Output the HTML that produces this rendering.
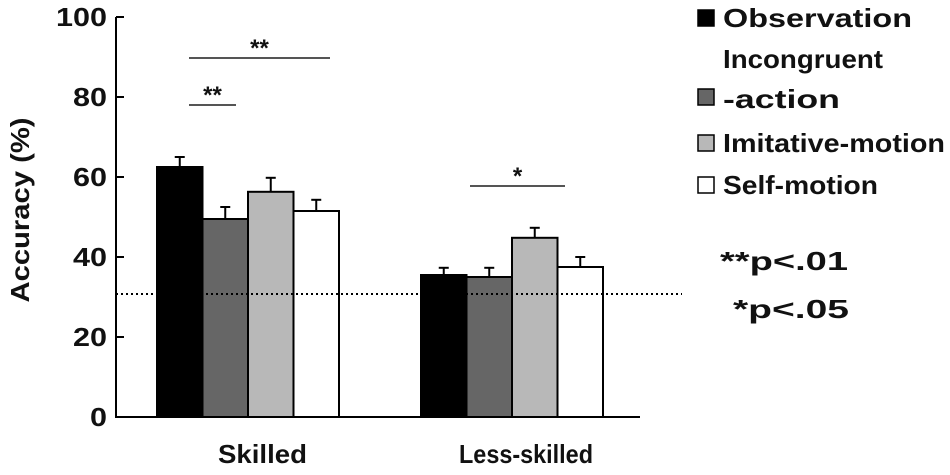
<!DOCTYPE html>
<html><head><meta charset="utf-8"><style>
body{margin:0;background:#fff}
svg text{font-family:"Liberation Sans",Arial,sans-serif;font-weight:bold;fill:#111}
</style></head><body>
<svg width="950" height="470" viewBox="0 0 950 470" id="chart">
<text x="29" y="210" font-size="26" text-anchor="middle" textLength="185" lengthAdjust="spacingAndGlyphs" transform="rotate(-90 29 210)">Accuracy (%)</text>
</svg>
<script>
const groups=["Skilled","Less-skilled"];
const conditions=["Observation","Incongruent\n-action","Imitative-motion","Self-motion"];
const fills=["#000","#666","#b8b8b8","#fff"];
const values=[[62.5,49.5,56.3,51.5],[35.5,35,44.8,37.5]];
const errors=[[2.5,3,3.5,2.8],[1.8,2.3,2.5,2.5]];
const yTicks=[0,20,40,60,80,100];
const chance=30.75;
const ns="http://www.w3.org/2000/svg";
const svg=document.getElementById("chart");
const y=v=>417-v*4;
const groupStart=[157,421], bw=45.5;
function mk(t,a,p){const e=document.createElementNS(ns,t);for(const k in a)e.setAttribute(k,a[k]);(p||svg).appendChild(e);return e;}
let ax=mk("line",{x1:116,y1:y(100),x2:116,y2:418,stroke:"#000","stroke-width":2});


let bx=mk("line",{x1:115,y1:417,x2:640,y2:417,stroke:"#000","stroke-width":2});


yTicks.forEach(t=>{
 const l=mk("line",{x1:116,y1:y(t),x2:124,y2:y(t),stroke:"#000","stroke-width":2});
 
 
 const w=String(t).length*17;
 const tx=mk("text",{x:107,y:y(t)+9,"font-size":26,"text-anchor":"end",textLength:w,lengthAdjust:"spacingAndGlyphs"});tx.textContent=t;
 
 
});
values.forEach((gv,g)=>gv.forEach((v,i)=>{
 const x=groupStart[g]+i*bw;
 const el=mk("line",{x1:x+bw/2,y1:y(v),x2:x+bw/2,y2:y(v+errors[g][i]),stroke:"#000","stroke-width":2});
 
 
 const cap=mk("line",{x1:x+bw/2-5,y1:y(v+errors[g][i]),x2:x+bw/2+5,y2:y(v+errors[g][i]),stroke:"#000","stroke-width":2});
 
 
 const r=mk("rect",{x:x,y:y(v),width:bw,height:y(0)-y(v),fill:fills[i],stroke:"#000","stroke-width":2});
 
 
}));
const ch=mk("line",{x1:116,y1:y(chance),x2:682,y2:y(chance),stroke:"#000","stroke-width":2,"stroke-dasharray":"2,3"});


[["Skilled",218,89],["Less-skilled",459,134]].forEach(([t,x0,w])=>{
 const tx=mk("text",{x:x0,y:463,"font-size":26,textLength:w,lengthAdjust:"spacingAndGlyphs"});tx.textContent=t;
 
 
});
[[189,330,58,"**"],[189,236,105,"**"],[470,565,186,"*"]].forEach(([a,b,yy,s])=>{
 const l=mk("line",{x1:a,y1:yy,x2:b,y2:yy,stroke:"#555","stroke-width":2});
 
 
 const tx=mk("text",{x:(a+b)/2,y:yy-2,"font-size":24,"text-anchor":"middle"});tx.textContent=s;
 
 
});
const ly=[18,97,143,185];
const lw=[[189],[160,117],[222],[155]];
conditions.forEach((c,i)=>{
 const r=mk("rect",{x:698,y:ly[i]-8,width:16,height:16,fill:fills[i],stroke:"#000","stroke-width":1.5});
 
 
 const lines=c.split("\n");
 lines.forEach((ln,k)=>{
  const yy=lines.length>1?ly[i]-38+k*40:ly[i];
  const tx=mk("text",{x:723,y:yy+9,"font-size":26,textLength:lw[i][k],lengthAdjust:"spacingAndGlyphs"});tx.textContent=ln;
  
  
 });
});
[["**p<.01",720,270,128],["*p<.05",733,318,116]].forEach(([t,x,yy,w])=>{
 const tx=mk("text",{x:x,y:yy,"font-size":26,textLength:w,lengthAdjust:"spacingAndGlyphs"});tx.textContent=t;
 
 
});
</script>
</body></html>
